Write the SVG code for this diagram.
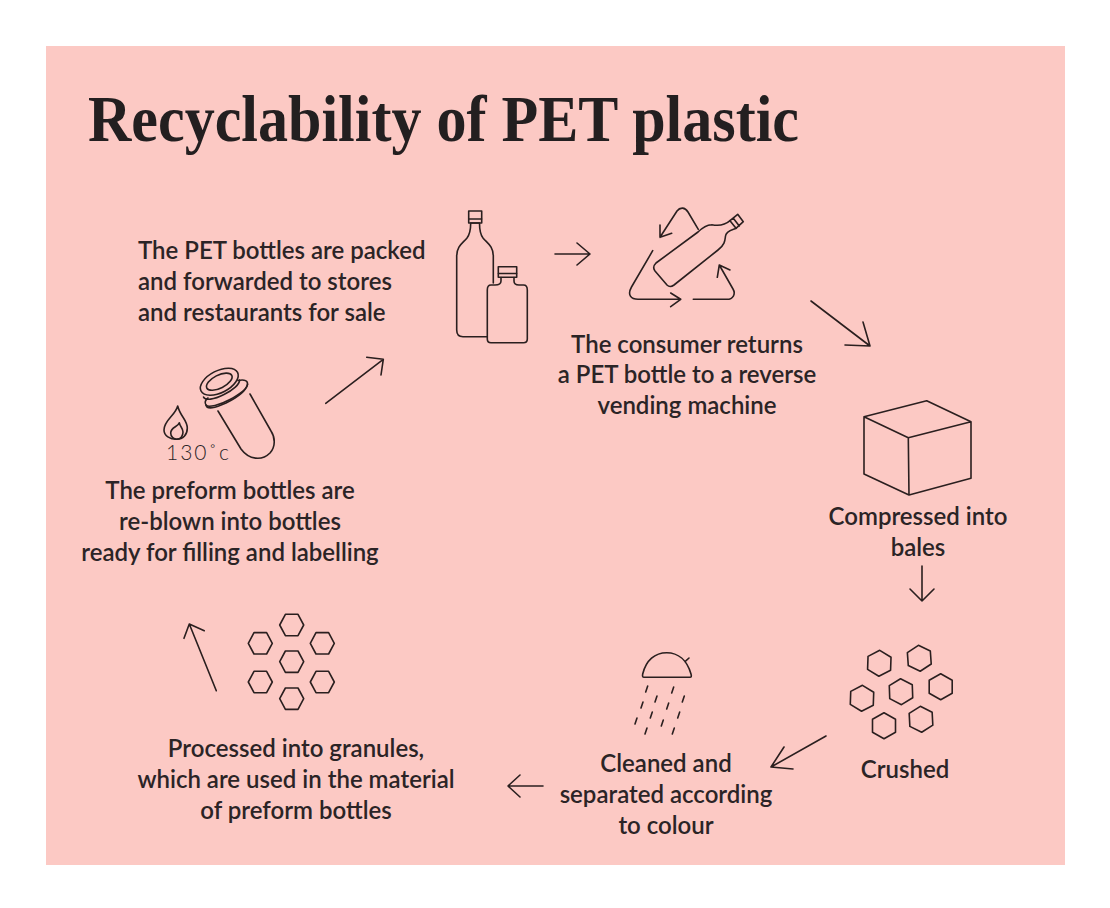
<svg xmlns="http://www.w3.org/2000/svg" width="1110" height="908" viewBox="0 0 1110 908">
<style>
.l{fill:none;stroke:#2a1f1f;stroke-width:1.6;stroke-linecap:round;stroke-linejoin:round}
.t{font-family:"Lato","Liberation Sans",sans-serif;font-weight:600;font-size:24px;fill:#2b2426}
.m{text-anchor:middle}
</style>
<defs>
<polygon id="hp" points="0,-13 11.5,-6.5 11.5,6.5 0,13 -11.5,6.5 -11.5,-6.5"/>
<polygon id="hf" points="-12,0 -6.3,-10.7 6.3,-10.7 12,0 6.3,10.7 -6.3,10.7"/>
<line id="d" x1="1" y1="-3" x2="-1" y2="3"/>
</defs>
<rect width="1110" height="908" fill="#ffffff"/>
<rect x="46" y="46" width="1019" height="819" fill="#fcc9c4"/>
<text id="title" x="88" y="141" font-family="'Liberation Serif',serif" font-weight="700" font-size="66" fill="#231f20" textLength="711" lengthAdjust="spacingAndGlyphs">Recyclability of PET plastic</text>

<g id="connectors" class="l">
<path d="M555,254H590M577,243L590,254L577,265"/>
<path d="M811,301L870,346M845,345L870,346L863,322"/>
<path d="M922,566V601M910,589L922,601L934,589"/>
<path d="M826,736L771,767M784,747L771,767L793,769"/>
<path d="M543,786H508M520,775L508,786L520,797"/>
<path d="M216.3,690.7L189.3,624M184,638.3L189.3,624L204.3,630.7"/>
<path d="M325.7,403.3L383.3,359.3M366.7,357.3L383.3,359.3L381,375"/>
</g>

<g id="node-packed">
<g class="l">
<path d="M493.3,283V256C493.3,246 487,243 483,238C480,234 479.5,230 479.5,223H470.7C470.7,230 470,234 467,238C463,243 456.7,246 456.7,256V330C456.7,334 459,336.7 463,336.7H487.3"/>
<rect x="468.7" y="211" width="13" height="12"/>
<line x1="469" y1="219" x2="481.5" y2="219"/>
<path d="M501,277.5V281C501,284 499,285 495,285H491C488.5,285 487.3,287 487.3,290V339C487.3,341.5 488.5,342.7 491,342.7H523.5C526,342.7 527.3,341.5 527.3,339V290C527.3,287 526,285 523.5,285H519C515.5,285 514,284 514,281V277.5"/>
<rect x="498.3" y="266.7" width="18.4" height="10.6"/>
<line x1="498.5" y1="273.5" x2="516.5" y2="273.5"/>
</g>
<text class="t" x="138" y="259">The PET bottles are packed</text>
<text class="t" x="138" y="290">and forwarded to stores</text>
<text class="t" x="138" y="321">and restaurants for sale</text>
</g>

<g id="node-returned">
<g class="l">
<path d="M698.3,229.3L688,212C685,207 680,207 677,211L660,237.3M660,225V237.3L671.7,233.3"/>
<path d="M652.7,250.7L631.5,287C627,295 631,299.3 638,299.3H680.7M670.7,293L680.7,299.3L670.7,306.7"/>
<path d="M693.3,299.3H727C733,299.3 736,294 733,289L719.3,265M717.3,277.3L719.3,265L730,270"/>
<path d="M711.7,224.7C706,225 702,228 698,232L656,263Q652,267 655,271L667,285Q670,288 674,285L718,250C725,245 725,240 725.5,236C726,231 732,230 736,228.3M711.7,224.7C718,226 724,226 730,220.7"/>
<path d="M730,220.7L737.7,214.3L743.3,221.7L736,228.3ZM733.3,218.3L739.3,226"/>
</g>
<text class="t m" x="687" y="353">The consumer returns</text>
<text class="t m" x="687" y="383">a PET bottle to a reverse</text>
<text class="t m" x="687" y="414">vending machine</text>
</g>

<g id="node-compressed">
<path class="l" d="M864,416.7L926.7,400.7L971,421.7L908.3,437.7ZM864,416.7V474L909,495L971,478.3V421.7M908.3,437.7L909,495"/>
<text class="t m" x="918" y="525">Compressed into</text>
<text class="t m" x="918" y="556">bales</text>
</g>

<g id="node-crushed">
<g class="l">
<use href="#hp" transform="translate(879.3,663.3) rotate(2)"/>
<use href="#hp" transform="translate(919.3,658.3) rotate(-4)"/>
<use href="#hp" transform="translate(940.7,686.7) rotate(0)"/>
<use href="#hp" transform="translate(901,691.7) rotate(-2)"/>
<use href="#hp" transform="translate(862,698.3) rotate(2)"/>
<use href="#hp" transform="translate(884,725.7)"/>
<use href="#hp" transform="translate(921,719.3) rotate(-3)"/>
</g>
<text class="t m" x="905" y="778">Crushed</text>
</g>

<g id="node-cleaned">
<g class="l">
<path d="M644,677.3H690Q692,677.3 691,674C687,660 678,652.7 666.7,652.7C655,652.7 646,660 642.7,674Q642,677.3 644,677.3ZM685,661.7L689,658"/>
<use href="#d" x="646.7" y="689"/><use href="#d" x="672.7" y="690"/>
<use href="#d" x="656" y="699"/><use href="#d" x="683.3" y="699"/>
<use href="#d" x="642" y="705"/><use href="#d" x="667.7" y="706"/>
<use href="#d" x="651.3" y="715"/><use href="#d" x="678.7" y="715"/>
<use href="#d" x="636" y="721"/><use href="#d" x="662.3" y="723"/>
<use href="#d" x="646" y="731"/><use href="#d" x="673.3" y="731"/>
</g>
<text class="t m" x="666" y="772">Cleaned and</text>
<text class="t m" x="666" y="803">separated according</text>
<text class="t m" x="666" y="834">to colour</text>
</g>

<g id="node-granules">
<g class="l">
<use href="#hf" x="291.7" y="625"/>
<use href="#hf" x="260.3" y="643.3"/>
<use href="#hf" x="322.3" y="643.3"/>
<use href="#hf" x="291.7" y="661.7"/>
<use href="#hf" x="260.3" y="682"/>
<use href="#hf" x="322.3" y="682"/>
<use href="#hf" x="291.7" y="698.7"/>
</g>
<text class="t m" x="296" y="757">Processed into granules,</text>
<text class="t m" x="296" y="788">which are used in the material</text>
<text class="t m" x="296" y="819">of preform bottles</text>
</g>

<g id="node-preform">
<g class="l">
<ellipse cx="219.3" cy="381.7" rx="20.5" ry="11" transform="rotate(-27 219.3 381.7)"/>
<ellipse cx="219.3" cy="381.7" rx="14" ry="6.5" transform="rotate(-27 219.3 381.7)"/>
<path d="M203.5,397C205,401 214,399.5 224,394.5C233,390 240,384 239.5,380"/>
<path d="M238,380.5C245,379 248,381 247.5,384.5C247,389 240,394 230,399.5C220,405 208,408 206,405C204.5,403 205,400 208,398"/>
<path d="M206,405C207,410 215,408 226,403C237,397.5 246,391 247.5,384.5"/>
<path d="M218,411L241,449C249,460 262,461 270,453C276,446 275,437 271,431L250,394"/>
<path d="M177.7,406C175,416 164,420 164,430C164,436 170,439.3 176.7,439.3C183,439.3 187.3,435 187.3,428C187.3,420 180,416 177.7,406Z"/>
<path d="M179.3,422.7C178,427 170.7,427 170.7,433C170.7,437 174,439.3 176.7,439.3C181,439.3 183,435.5 183,432C183,428 180,427 179.3,422.7Z"/>
</g>
<text x="166" y="460" font-family="Lato,'Liberation Sans',sans-serif" font-weight="300" font-size="21" letter-spacing="2" fill="#2b2426">130˚c</text>
<text class="t m" x="230" y="499">The preform bottles are</text>
<text class="t m" x="230" y="530">re-blown into bottles</text>
<text class="t m" x="230" y="561">ready for filling and labelling</text>
</g>
</svg>
